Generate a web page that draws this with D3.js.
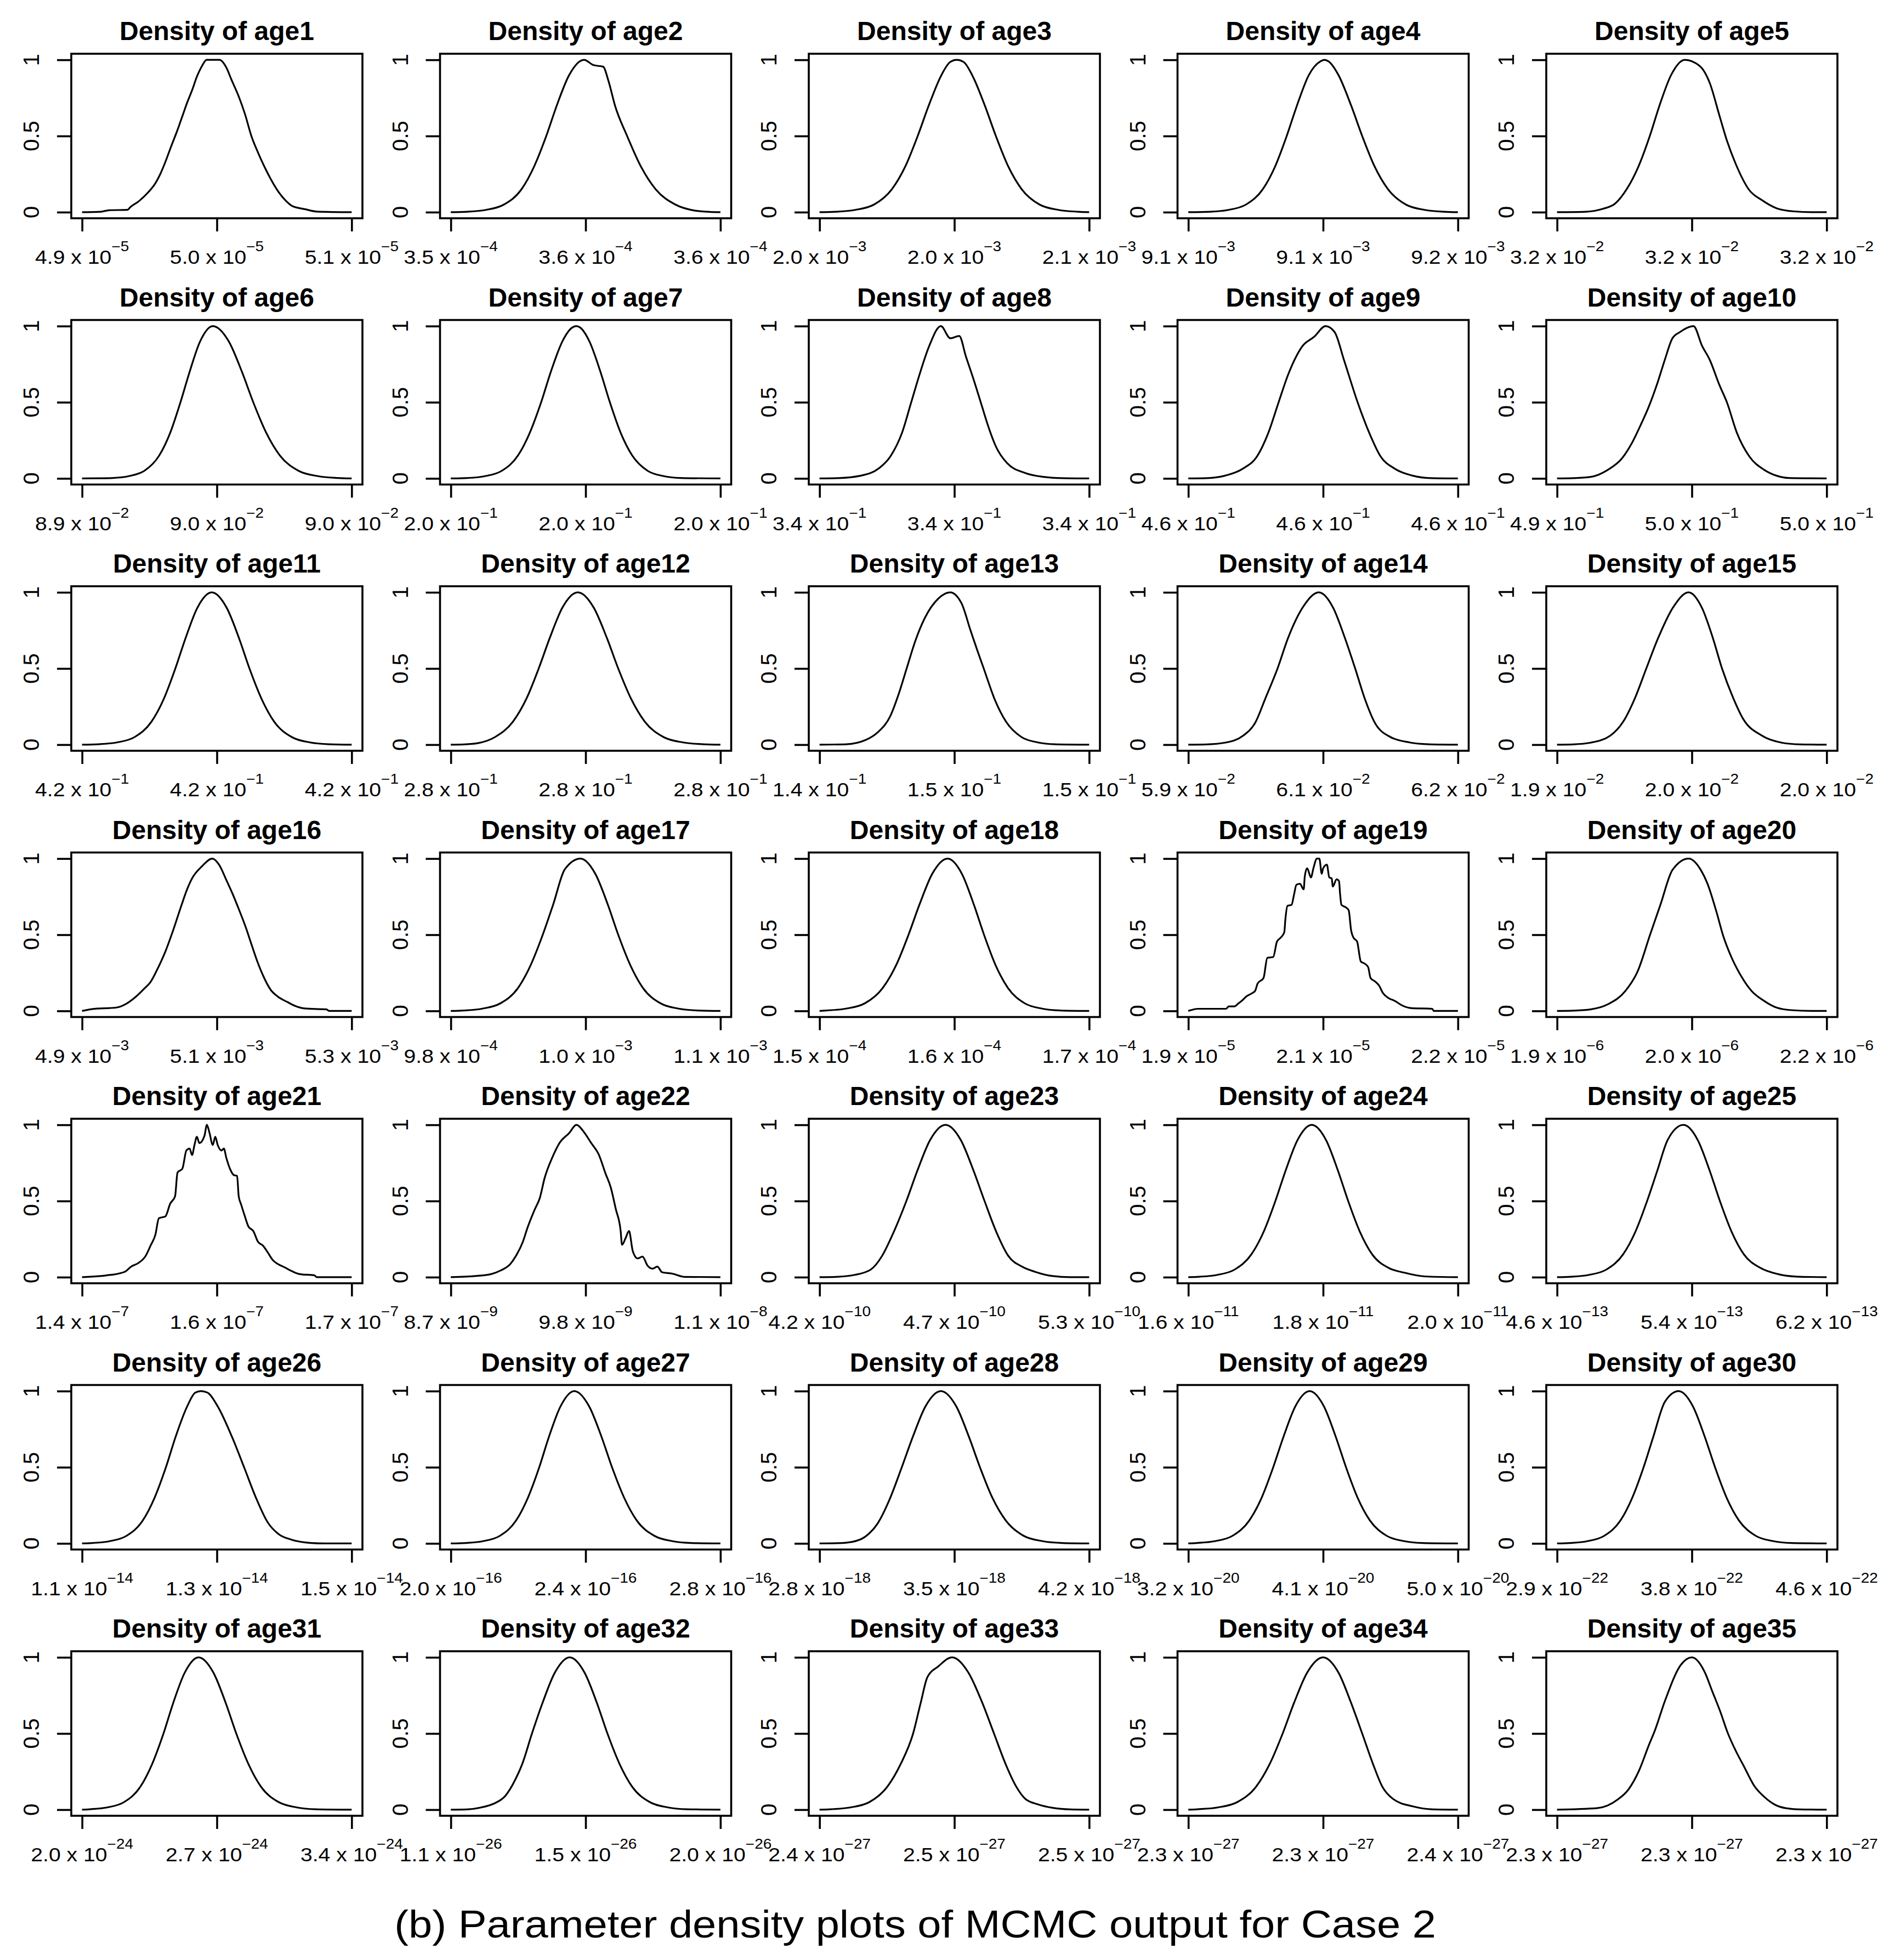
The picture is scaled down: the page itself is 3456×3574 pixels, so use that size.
<!DOCTYPE html>
<html>
<head>
<meta charset="utf-8">
<script src="https://cdn.jsdelivr.net/npm/d3@7"></script>
<style>
  body { margin: 0; background: #fff; }
  svg { display: block; font-family: "Liberation Sans", Arial, sans-serif; }
</style>
</head>
<body>
<div id="chart"></div>
<script>
// panel names, one per parameter
const ageNames = ["age1","age2","age3","age4","age5","age6","age7","age8","age9","age10",
  "age11","age12","age13","age14","age15","age16","age17","age18","age19","age20",
  "age21","age22","age23","age24","age25","age26","age27","age28","age29","age30",
  "age31","age32","age33","age34","age35"];

// x ticks sit at the start, middle and end of each sample range (relative position)
const xTickPos = [0, 0.5, 1];
const xTickLabels = [
  ["4.9e-5","5.0e-5","5.1e-5"], ["3.5e-4","3.6e-4","3.6e-4"], ["2.0e-3","2.0e-3","2.1e-3"],
  ["9.1e-3","9.1e-3","9.2e-3"], ["3.2e-2","3.2e-2","3.2e-2"], ["8.9e-2","9.0e-2","9.0e-2"],
  ["2.0e-1","2.0e-1","2.0e-1"], ["3.4e-1","3.4e-1","3.4e-1"], ["4.6e-1","4.6e-1","4.6e-1"],
  ["4.9e-1","5.0e-1","5.0e-1"], ["4.2e-1","4.2e-1","4.2e-1"], ["2.8e-1","2.8e-1","2.8e-1"],
  ["1.4e-1","1.5e-1","1.5e-1"], ["5.9e-2","6.1e-2","6.2e-2"], ["1.9e-2","2.0e-2","2.0e-2"],
  ["4.9e-3","5.1e-3","5.3e-3"], ["9.8e-4","1.0e-3","1.1e-3"], ["1.5e-4","1.6e-4","1.7e-4"],
  ["1.9e-5","2.1e-5","2.2e-5"], ["1.9e-6","2.0e-6","2.2e-6"], ["1.4e-7","1.6e-7","1.7e-7"],
  ["8.7e-9","9.8e-9","1.1e-8"], ["4.2e-10","4.7e-10","5.3e-10"], ["1.6e-11","1.8e-11","2.0e-11"],
  ["4.6e-13","5.4e-13","6.2e-13"], ["1.1e-14","1.3e-14","1.5e-14"], ["2.0e-16","2.4e-16","2.8e-16"],
  ["2.8e-18","3.5e-18","4.2e-18"], ["3.2e-20","4.1e-20","5.0e-20"], ["2.9e-22","3.8e-22","4.6e-22"],
  ["2.0e-24","2.7e-24","3.4e-24"], ["1.1e-26","1.5e-26","2.0e-26"], ["2.4e-27","2.5e-27","2.5e-27"],
  ["2.3e-27","2.3e-27","2.4e-27"], ["2.3e-27","2.3e-27","2.3e-27"]
];

const yTicks = [0, 0.5, 1];
const yTickLabels = ["0", "0.5", "1"];

// scaled density, [relative position, density / max]
const densityCurves = [
  [[0,0],[0.07,0.003],[0.1,0.013],[0.168,0.015],[0.18,0.035],[0.209,0.07],[0.245,0.13],[0.272,0.19],[0.29,0.25],[0.309,0.33],[0.33,0.43],[0.352,0.53],[0.372,0.63],[0.39,0.72],[0.408,0.8],[0.426,0.89],[0.445,0.96],[0.462,1],[0.51,1],[0.535,0.95],[0.554,0.87],[0.581,0.76],[0.605,0.64],[0.628,0.5],[0.653,0.39],[0.676,0.3],[0.699,0.22],[0.726,0.14],[0.753,0.08],[0.78,0.04],[0.826,0.02],[0.871,0.004],[1,0]],
  [[0,0],[0.06,0.003],[0.13,0.015],[0.197,0.05],[0.262,0.15],[0.309,0.3],[0.354,0.5],[0.393,0.7],[0.439,0.9],[0.494,1],[0.53,0.965],[0.565,0.955],[0.585,0.86],[0.609,0.7],[0.654,0.5],[0.705,0.3],[0.76,0.15],[0.833,0.05],[0.9,0.012],[0.96,0.002],[1,0]],
  [[0,0],[0.059,0.003],[0.132,0.015],[0.202,0.05],[0.268,0.15],[0.318,0.3],[0.364,0.5],[0.405,0.7],[0.452,0.9],[0.484,0.985],[0.509,1],[0.535,0.985],[0.566,0.9],[0.613,0.7],[0.654,0.5],[0.7,0.3],[0.75,0.15],[0.816,0.05],[0.886,0.015],[0.959,0.003],[1,0]],
  [[0,0],[0.081,0.003],[0.149,0.015],[0.214,0.05],[0.276,0.15],[0.322,0.3],[0.365,0.5],[0.403,0.7],[0.447,0.9],[0.49,0.99],[0.505,1],[0.52,0.99],[0.557,0.9],[0.604,0.7],[0.645,0.5],[0.691,0.3],[0.741,0.15],[0.807,0.05],[0.877,0.015],[0.95,0.003],[1,0]],
  [[0,0],[0.106,0.003],[0.17,0.022],[0.216,0.057],[0.258,0.15],[0.302,0.3],[0.344,0.5],[0.38,0.7],[0.423,0.9],[0.474,1],[0.529,0.96],[0.566,0.85],[0.603,0.63],[0.63,0.47],[0.662,0.32],[0.713,0.145],[0.759,0.08],[0.814,0.026],[0.88,0.005],[0.95,0],[1,0]],
  [[0,0],[0.06,0.001],[0.113,0.003],[0.173,0.015],[0.231,0.05],[0.286,0.15],[0.327,0.3],[0.365,0.5],[0.399,0.7],[0.438,0.9],[0.485,1],[0.544,0.9],[0.593,0.7],[0.635,0.5],[0.683,0.3],[0.734,0.15],[0.803,0.05],[0.875,0.015],[0.95,0.003],[1,0]],
  [[0,0],[0.062,0.003],[0.127,0.015],[0.189,0.05],[0.249,0.15],[0.293,0.3],[0.335,0.5],[0.371,0.7],[0.414,0.9],[0.45,0.99],[0.465,1],[0.48,0.99],[0.514,0.9],[0.555,0.7],[0.59,0.5],[0.63,0.3],[0.673,0.15],[0.73,0.05],[0.79,0.015],[0.853,0.003],[1,0]],
  [[0,0],[0.068,0.002],[0.153,0.018],[0.22,0.066],[0.263,0.145],[0.306,0.3],[0.34,0.5],[0.374,0.7],[0.407,0.87],[0.45,1],[0.485,0.92],[0.518,0.935],[0.543,0.8],[0.575,0.63],[0.603,0.47],[0.628,0.33],[0.654,0.21],[0.696,0.1],[0.764,0.035],[0.832,0.01],[0.9,0.002],[1,0]],
  [[0,0],[0.068,0.002],[0.136,0.018],[0.204,0.066],[0.255,0.145],[0.297,0.3],[0.335,0.5],[0.37,0.68],[0.4,0.8],[0.424,0.87],[0.467,0.93],[0.509,1],[0.543,0.96],[0.577,0.78],[0.628,0.5],[0.671,0.3],[0.713,0.145],[0.764,0.066],[0.832,0.018],[0.9,0.002],[1,0]],
  [[0,0],[0.06,0.002],[0.124,0.01],[0.189,0.057],[0.24,0.13],[0.28,0.24],[0.31,0.35],[0.34,0.47],[0.373,0.63],[0.4,0.78],[0.428,0.92],[0.455,0.96],[0.506,1],[0.538,0.87],[0.566,0.78],[0.603,0.61],[0.63,0.5],[0.667,0.3],[0.713,0.145],[0.768,0.057],[0.814,0.018],[0.86,0.003],[1,0]],
  [[0,0],[0.062,0.003],[0.13,0.015],[0.195,0.05],[0.257,0.15],[0.303,0.3],[0.346,0.5],[0.384,0.7],[0.428,0.9],[0.481,1],[0.536,0.9],[0.582,0.7],[0.621,0.5],[0.666,0.3],[0.713,0.15],[0.778,0.05],[0.845,0.015],[0.915,0.003],[1,0]],
  [[0,0],[0.05,0.002],[0.1,0.01],[0.164,0.05],[0.23,0.15],[0.28,0.3],[0.326,0.5],[0.367,0.7],[0.414,0.9],[0.471,1],[0.53,0.9],[0.579,0.7],[0.621,0.5],[0.669,0.3],[0.72,0.15],[0.789,0.05],[0.861,0.015],[0.936,0.003],[1,0]],
  [[0,0],[0.1,0.003],[0.17,0.03],[0.215,0.08],[0.263,0.19],[0.293,0.33],[0.323,0.5],[0.355,0.68],[0.39,0.83],[0.441,0.96],[0.484,1],[0.526,0.93],[0.56,0.75],[0.585,0.62],[0.609,0.5],[0.649,0.3],[0.692,0.15],[0.749,0.05],[0.809,0.015],[0.872,0.003],[1,0]],
  [[0,0],[0.07,0.002],[0.136,0.013],[0.204,0.06],[0.25,0.15],[0.285,0.3],[0.331,0.5],[0.37,0.7],[0.424,0.9],[0.484,1],[0.537,0.9],[0.581,0.7],[0.619,0.5],[0.655,0.3],[0.69,0.15],[0.75,0.05],[0.82,0.015],[0.89,0.003],[1,0]],
  [[0,0],[0.06,0.002],[0.124,0.013],[0.198,0.06],[0.245,0.15],[0.29,0.31],[0.331,0.5],[0.375,0.7],[0.43,0.9],[0.488,1],[0.537,0.9],[0.578,0.7],[0.612,0.5],[0.655,0.3],[0.69,0.17],[0.759,0.06],[0.833,0.013],[0.9,0.002],[1,0]],
  [[0,0],[0.036,0.012],[0.127,0.022],[0.163,0.046],[0.2,0.094],[0.227,0.14],[0.254,0.19],[0.281,0.28],[0.309,0.39],[0.336,0.52],[0.368,0.69],[0.39,0.8],[0.408,0.87],[0.445,0.95],[0.483,1],[0.508,0.96],[0.535,0.86],[0.558,0.77],[0.581,0.67],[0.608,0.545],[0.626,0.45],[0.649,0.33],[0.672,0.23],[0.699,0.14],[0.726,0.094],[0.762,0.058],[0.789,0.034],[0.826,0.016],[0.907,0.01],[0.916,0],[1,0]],
  [[0,0],[0.047,0.003],[0.117,0.015],[0.184,0.05],[0.249,0.15],[0.296,0.3],[0.341,0.5],[0.38,0.7],[0.423,0.93],[0.481,1],[0.536,0.9],[0.582,0.7],[0.621,0.5],[0.666,0.3],[0.713,0.15],[0.778,0.05],[0.845,0.015],[0.915,0.003],[1,0]],
  [[0,0],[0.025,0.003],[0.098,0.015],[0.168,0.05],[0.234,0.15],[0.284,0.3],[0.33,0.5],[0.371,0.7],[0.418,0.9],[0.475,1],[0.528,0.9],[0.572,0.7],[0.61,0.5],[0.653,0.3],[0.699,0.15],[0.761,0.05],[0.826,0.015],[0.894,0.003],[1,0]],
  [[0,0],[0.036,0.014],[0.14,0.014],[0.15,0.03],[0.171,0.03],[0.185,0.048],[0.198,0.066],[0.216,0.096],[0.234,0.114],[0.248,0.132],[0.257,0.18],[0.279,0.216],[0.293,0.348],[0.315,0.354],[0.329,0.456],[0.342,0.48],[0.356,0.516],[0.36,0.6],[0.368,0.69],[0.383,0.696],[0.392,0.762],[0.401,0.828],[0.414,0.834],[0.428,0.798],[0.432,0.882],[0.441,0.936],[0.455,0.876],[0.464,0.936],[0.477,1],[0.486,1],[0.495,0.9],[0.5,0.936],[0.514,0.96],[0.523,0.876],[0.532,0.87],[0.536,0.816],[0.55,0.864],[0.559,0.852],[0.563,0.768],[0.568,0.696],[0.586,0.678],[0.595,0.66],[0.604,0.528],[0.613,0.48],[0.626,0.456],[0.64,0.324],[0.653,0.312],[0.667,0.288],[0.676,0.216],[0.694,0.192],[0.707,0.168],[0.721,0.12],[0.743,0.084],[0.766,0.066],[0.793,0.036],[0.829,0.018],[0.905,0.014],[0.91,0],[1,0]],
  [[0,0],[0.06,0.002],[0.124,0.01],[0.189,0.044],[0.253,0.13],[0.299,0.26],[0.345,0.5],[0.384,0.7],[0.428,0.925],[0.488,1],[0.535,0.92],[0.557,0.84],[0.593,0.64],[0.615,0.5],[0.645,0.36],[0.676,0.25],[0.722,0.13],[0.768,0.066],[0.814,0.022],[0.87,0.005],[0.95,0],[1,0]],
  [[0,0],[0.091,0.012],[0.136,0.024],[0.163,0.04],[0.181,0.068],[0.209,0.093],[0.236,0.14],[0.254,0.207],[0.272,0.279],[0.285,0.387],[0.309,0.399],[0.327,0.483],[0.345,0.531],[0.354,0.687],[0.372,0.712],[0.387,0.832],[0.399,0.844],[0.408,0.802],[0.417,0.868],[0.426,0.922],[0.435,0.88],[0.454,0.928],[0.463,1],[0.472,0.952],[0.485,0.868],[0.494,0.922],[0.503,0.868],[0.517,0.832],[0.526,0.844],[0.535,0.784],[0.55,0.706],[0.563,0.67],[0.575,0.665],[0.581,0.531],[0.59,0.477],[0.604,0.399],[0.617,0.333],[0.635,0.303],[0.653,0.231],[0.671,0.207],[0.69,0.159],[0.708,0.111],[0.726,0.087],[0.753,0.063],[0.78,0.038],[0.808,0.02],[0.862,0.012],[0.871,0],[1,0]],
  [[0,0],[0.094,0.008],[0.149,0.02],[0.185,0.044],[0.221,0.087],[0.24,0.135],[0.267,0.231],[0.285,0.327],[0.312,0.447],[0.33,0.519],[0.348,0.651],[0.376,0.784],[0.403,0.88],[0.439,0.946],[0.466,1],[0.494,0.952],[0.521,0.88],[0.548,0.808],[0.575,0.675],[0.593,0.591],[0.612,0.447],[0.63,0.303],[0.635,0.213],[0.648,0.255],[0.661,0.303],[0.675,0.171],[0.693,0.123],[0.711,0.135],[0.73,0.075],[0.748,0.056],[0.766,0.069],[0.784,0.032],[0.82,0.024],[0.866,0.002],[1,0]],
  [[0,0],[0.06,0.002],[0.13,0.015],[0.19,0.05],[0.232,0.14],[0.276,0.3],[0.322,0.5],[0.363,0.7],[0.41,0.9],[0.467,1],[0.524,0.9],[0.571,0.7],[0.612,0.5],[0.655,0.3],[0.7,0.14],[0.75,0.07],[0.8,0.035],[0.866,0.007],[0.93,0],[1,0]],
  [[0,0],[0.039,0.003],[0.107,0.015],[0.172,0.05],[0.234,0.15],[0.28,0.3],[0.323,0.5],[0.361,0.7],[0.405,0.9],[0.458,1],[0.511,0.9],[0.555,0.7],[0.593,0.5],[0.636,0.3],[0.682,0.15],[0.744,0.06],[0.8,0.03],[0.877,0.005],[1,0]],
  [[0,0],[0.05,0.003],[0.118,0.015],[0.183,0.05],[0.245,0.15],[0.291,0.3],[0.334,0.5],[0.372,0.7],[0.41,0.9],[0.469,1],[0.522,0.9],[0.566,0.7],[0.604,0.5],[0.647,0.3],[0.693,0.15],[0.755,0.06],[0.82,0.02],[0.888,0.004],[1,0]],
  [[0,0],[0.038,0.003],[0.103,0.015],[0.165,0.05],[0.225,0.15],[0.269,0.3],[0.311,0.5],[0.347,0.7],[0.39,0.9],[0.42,0.99],[0.441,1],[0.465,0.99],[0.503,0.9],[0.556,0.7],[0.601,0.5],[0.645,0.3],[0.688,0.14],[0.73,0.06],[0.776,0.025],[0.85,0.003],[0.9,0],[1,0]],
  [[0,0],[0.055,0.003],[0.12,0.015],[0.182,0.05],[0.242,0.15],[0.286,0.3],[0.328,0.5],[0.364,0.7],[0.407,0.9],[0.458,1],[0.513,0.9],[0.559,0.7],[0.598,0.5],[0.643,0.3],[0.69,0.15],[0.755,0.05],[0.822,0.015],[0.892,0.003],[1,0]],
  [[0,0],[0.07,0.002],[0.12,0.01],[0.17,0.045],[0.215,0.13],[0.26,0.29],[0.305,0.5],[0.346,0.7],[0.393,0.9],[0.45,1],[0.507,0.9],[0.554,0.7],[0.595,0.5],[0.641,0.3],[0.691,0.15],[0.757,0.05],[0.827,0.015],[0.9,0.003],[1,0]],
  [[0,0],[0.031,0.003],[0.099,0.015],[0.164,0.05],[0.226,0.15],[0.272,0.3],[0.315,0.5],[0.353,0.7],[0.397,0.9],[0.45,1],[0.503,0.9],[0.547,0.7],[0.585,0.5],[0.628,0.3],[0.674,0.15],[0.736,0.05],[0.801,0.015],[0.869,0.003],[1,0]],
  [[0,0],[0.048,0.003],[0.113,0.015],[0.175,0.05],[0.235,0.15],[0.279,0.3],[0.321,0.5],[0.357,0.7],[0.4,0.93],[0.451,1],[0.504,0.9],[0.548,0.7],[0.586,0.5],[0.629,0.3],[0.675,0.15],[0.737,0.05],[0.802,0.015],[0.87,0.003],[1,0]],
  [[0,0],[0.029,0.003],[0.094,0.015],[0.156,0.05],[0.216,0.15],[0.26,0.3],[0.302,0.5],[0.338,0.7],[0.381,0.9],[0.432,1],[0.487,0.9],[0.533,0.7],[0.572,0.5],[0.617,0.3],[0.664,0.15],[0.729,0.05],[0.796,0.015],[0.866,0.003],[1,0]],
  [[0,0],[0.06,0.002],[0.113,0.015],[0.16,0.04],[0.202,0.09],[0.24,0.2],[0.265,0.3],[0.301,0.5],[0.34,0.7],[0.386,0.9],[0.441,1],[0.496,0.9],[0.542,0.7],[0.581,0.5],[0.626,0.3],[0.673,0.15],[0.738,0.05],[0.805,0.015],[0.875,0.003],[1,0]],
  [[0,0],[0.042,0.003],[0.115,0.015],[0.185,0.05],[0.251,0.15],[0.301,0.3],[0.347,0.5],[0.375,0.7],[0.4,0.87],[0.44,0.94],[0.492,1],[0.552,0.9],[0.604,0.7],[0.647,0.5],[0.69,0.3],[0.73,0.15],[0.764,0.07],[0.81,0.035],[0.866,0.012],[0.93,0.002],[1,0]],
  [[0,0],[0.035,0.003],[0.11,0.015],[0.182,0.05],[0.251,0.15],[0.302,0.3],[0.35,0.5],[0.392,0.7],[0.441,0.9],[0.5,1],[0.557,0.9],[0.604,0.7],[0.645,0.5],[0.685,0.3],[0.72,0.15],[0.76,0.07],[0.832,0.022],[0.9,0.003],[1,0]],
  [[0,0],[0.148,0.01],[0.226,0.068],[0.265,0.133],[0.304,0.256],[0.342,0.43],[0.362,0.516],[0.401,0.718],[0.459,0.95],[0.5,1],[0.547,0.906],[0.576,0.776],[0.605,0.646],[0.634,0.5],[0.663,0.386],[0.693,0.285],[0.732,0.155],[0.77,0.082],[0.809,0.032],[0.848,0.01],[0.9,0.002],[1,0]]
];

const caption = "(b) Parameter density plots of MCMC output for Case 2";

const W = 3456, H = 3574;
const colX0 = 130, colStep = 672.5;
const rowY0 = 98, rowStep = 485.5;
const pw = 531, ph = 300;
const stretch = 1.12;   // the source figure is a little wide

const svg = d3.select("#chart").append("svg")
  .attr("width", W)
  .attr("height", H)

svg.append("rect").attr("width", W).attr("height", H).attr("fill", "#fff")

// R style axes: 4% padding on both ends
const x = d3.scaleLinear().domain([-0.04, 1.04]).range([0, pw])
const y = d3.scaleLinear().domain([-0.04, 1.04]).range([ph, 0])

const line = d3.line()
  .x(function(d) { return x(d[0]) })
  .y(function(d) { return y(d[1]) })
  .curve(d3.curveMonotoneX)

ageNames.forEach(function(name, i) {
  var col = i % 5, row = Math.floor(i / 5)
  var g = svg.append("g")
    .attr("transform", "translate(" + (colX0 + col * colStep) + "," + (rowY0 + row * rowStep) + ")")

  g.append("path")
    .datum(densityCurves[i])
    .attr("d", line)
    .attr("fill", "none")
    .attr("stroke", "#000")
    .attr("stroke-width", 3.2)
    .attr("stroke-linejoin", "round")

  g.append("rect")
    .attr("width", pw)
    .attr("height", ph)
    .attr("fill", "none")
    .attr("stroke", "#000")
    .attr("stroke-width", 3.6)

  // tick marks
  g.append("g")
    .attr("transform", "translate(0," + ph + ")")
    .call(d3.axisBottom(x).tickValues(xTickPos).tickSize(24).tickFormat(""))
    .call(function(a) { a.select(".domain").remove() })
    .selectAll("line").attr("stroke-width", 3.6)

  g.append("g")
    .call(d3.axisLeft(y).tickValues(yTicks).tickSize(26).tickFormat(""))
    .call(function(a) { a.select(".domain").remove() })
    .selectAll("line").attr("stroke-width", 3.6)

  // x labels: mantissa x 10^exponent
  xTickPos.forEach(function(t, k) {
    var parts = xTickLabels[i][k].split("e")
    var lab = g.append("g")
      .attr("transform", "translate(" + x(t) + "," + (ph + 83) + ") scale(" + stretch + ",1)")
    var txt = lab.append("text")
      .attr("text-anchor", "middle")
      .attr("font-size", 35)
      .attr("fill", "#000")
    txt.append("tspan").text(parts[0] + " x 10")
    txt.append("tspan")
      .attr("dy", -23)
      .attr("font-size", 25)
      .text("\u2212" + parts[1].slice(1))
  })

  // y labels, parallel to the axis
  yTicks.forEach(function(t, k) {
    g.append("text")
      .attr("transform", "translate(-59," + y(t) + ") rotate(-90)")
      .attr("text-anchor", "middle")
      .attr("font-size", 40)
      .attr("fill", "#000")
      .text(yTickLabels[k])
  })

  g.append("text")
    .attr("x", pw / 2)
    .attr("y", -25)
    .attr("text-anchor", "middle")
    .attr("font-size", 48)
    .attr("font-weight", "bold")
    .attr("fill", "#000")
    .text("Density of " + name)
})

svg.append("text")
  .attr("transform", "translate(1669,3533) scale(1.11,1)")
  .attr("text-anchor", "middle")
  .attr("font-size", 70)
  .attr("fill", "#000")
  .text(caption)
</script>
</body>
</html>
